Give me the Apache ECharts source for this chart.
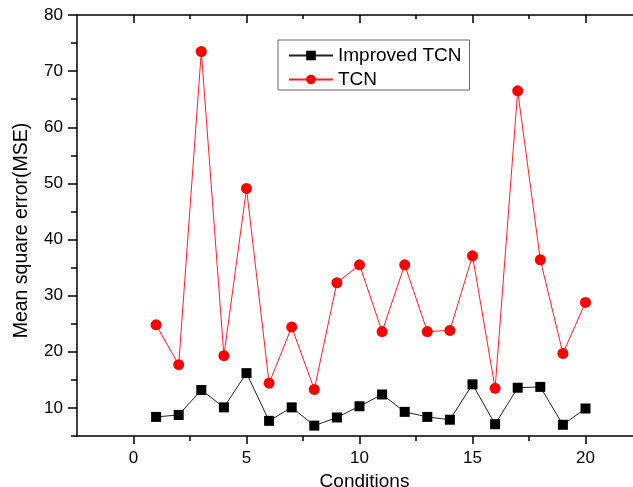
<!DOCTYPE html>
<html>
<head>
<meta charset="utf-8">
<script src="https://cdn.jsdelivr.net/npm/echarts@6/dist/echarts.min.js"></script>
<style>
html,body{margin:0;padding:0;background:#fff;}
#chart{width:633px;height:487px;}
</style>
</head>
<body>
<div id="chart"></div>
<script>
var conditions = [1,2,3,4,5,6,7,8,9,10,11,12,13,14,15,16,17,18,19,20];
var improvedTCN = [8.4,8.75,13.2,10.1,16.2,7.7,10.1,6.85,8.3,10.3,12.4,9.3,8.4,7.9,14.2,7.1,13.6,13.75,7.0,9.9];
var tcn = [24.8,17.7,73.5,19.3,49.1,14.4,24.4,13.3,32.3,35.5,23.6,35.5,23.6,23.8,37.1,13.5,66.5,36.4,19.7,28.8];
var xMajor = [0,5,10,15,20];
var xMinor = [2.5,7.5,12.5,17.5];
var yMajor = [10,20,30,40,50,60,70,80];
var yMinor = [5,15,25,35,45,55,65,75];

var FONT = 'Liberation Sans';
var gridBox = {left:77, right:-9, top:15, bottom:51, containLabel:false, outerBoundsMode:'none'};
function pairs(xs, ys){ return xs.map(function(x,i){ return [x, ys[i]]; }); }

var chart = echarts.init(document.getElementById('chart'), null, {renderer:'canvas'});
var axisLineStyle = {color:'#000', width:1.5};
var tickLine = {color:'#000', width:1.5};
var option = {
  backgroundColor:'#fff',
  animation:false,
  grid:[
    Object.assign({}, gridBox),
    Object.assign({}, gridBox)
  ],
  legend:{
    orient:'vertical',
    left:278, top:40,
    padding:[6,8,1,10],
    borderColor:'#666', borderWidth:1,
    itemWidth:44, itemHeight:12, itemGap:5,
    textStyle:{fontFamily:FONT, fontSize:19, color:'#000', lineHeight:19},
    data:['Improved TCN','TCN']
  },
  xAxis:[
    {gridIndex:0, type:'value', position:'bottom', min:-2.5, max:22.5, interval:2.5,
     name:'Conditions', nameLocation:'middle', nameGap:29,
     nameTextStyle:{fontFamily:FONT, fontSize:19, color:'#000', padding:[0,0,0,10]},
     axisLine:{show:true, onZero:false, lineStyle:axisLineStyle},
     axisTick:{show:true, inside:false, length:8, customValues:xMajor, lineStyle:tickLine},
     axisLabel:{show:true, customValues:xMajor, margin:14, fontFamily:FONT, fontSize:17, color:'#000'},
     splitLine:{show:false}},
    {gridIndex:0, type:'value', position:'top', min:-2.5, max:22.5, interval:2.5,
     axisLine:{show:true, onZero:false, lineStyle:axisLineStyle},
     axisTick:{show:true, inside:true, length:8, customValues:xMajor, lineStyle:tickLine},
     axisLabel:{show:false}, splitLine:{show:false}},
    {gridIndex:1, type:'value', position:'bottom', min:-2.5, max:22.5, interval:2.5,
     axisLine:{show:false, onZero:false},
     axisTick:{show:true, inside:false, length:5, customValues:xMinor, lineStyle:tickLine},
     axisLabel:{show:false}, splitLine:{show:false}},
    {gridIndex:1, type:'value', position:'top', min:-2.5, max:22.5, interval:2.5,
     axisLine:{show:false, onZero:false},
     axisTick:{show:true, inside:true, length:4, customValues:xMinor, lineStyle:tickLine},
     axisLabel:{show:false}, splitLine:{show:false}}
  ],
  yAxis:[
    {gridIndex:0, type:'value', position:'left', min:5, max:80, interval:5,
     name:'Mean square error(MSE)', nameLocation:'middle', nameGap:45,
     nameTextStyle:{fontFamily:FONT, fontSize:19.5, color:'#000', padding:[0,10,0,0]},
     axisLine:{show:true, onZero:false, lineStyle:axisLineStyle},
     axisTick:{show:true, inside:false, length:9, customValues:yMajor, lineStyle:tickLine},
     axisLabel:{show:true, customValues:yMajor, margin:14, fontFamily:FONT, fontSize:17, color:'#000'},
     splitLine:{show:false}},
    {gridIndex:1, type:'value', position:'left', min:5, max:80, interval:5,
     axisLine:{show:false, onZero:false},
     axisTick:{show:true, inside:false, length:6, customValues:yMinor, lineStyle:tickLine},
     axisLabel:{show:false}, splitLine:{show:false}}
  ],
  series:[
    {name:'Improved TCN', type:'line', xAxisIndex:0, yAxisIndex:0,
     data:pairs(conditions, improvedTCN),
     symbol:'rect', symbolSize:10,
     itemStyle:{color:'#000'},
     lineStyle:{color:'#222', width:1}},
    {name:'TCN', type:'line', xAxisIndex:0, yAxisIndex:0,
     data:pairs(conditions, tcn),
     symbol:'circle', symbolSize:11,
     itemStyle:{color:'#ff0000'},
     lineStyle:{color:'#ff2020', width:1}}
  ]
};
chart.setOption(option);
</script>
</body>
</html>
